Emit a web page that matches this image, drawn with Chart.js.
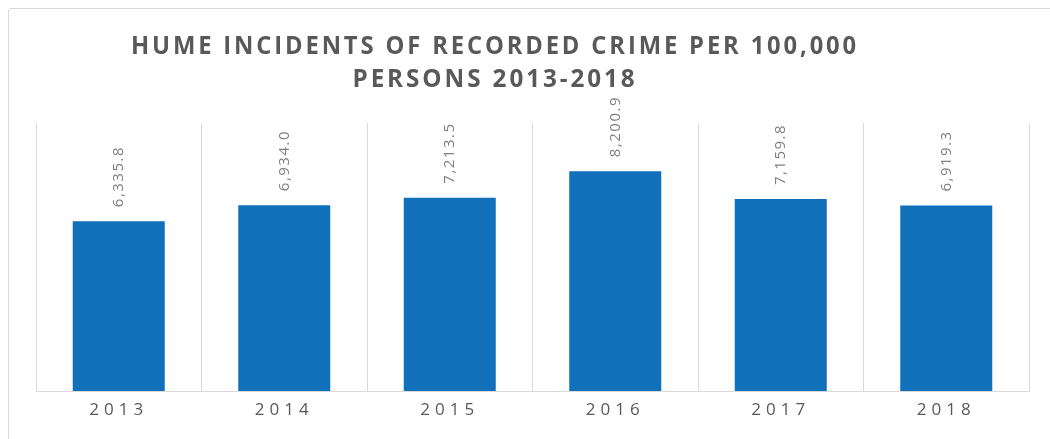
<!DOCTYPE html>
<html lang="en">
<head>
  <meta charset="UTF-8">
  <title>Hume incidents of recorded crime</title>
  <script src="https://cdn.jsdelivr.net/npm/chart.js"></script>
  <style>
    html, body { margin: 0; padding: 0; background: #fff; overflow: hidden; }
    .frame {
      position: absolute; left: 8px; top: 8px;
      width: 1200px; height: 600px;
      border: 1px solid #d9d9d9; border-radius: 3px;
    }
    .wrap { position: absolute; left: 0; top: 0; width: 1050px; height: 439px; }
  </style>
</head>
<body>
  <div class="frame"></div>
  <div class="wrap"><canvas id="crimeChart" width="1050" height="439"></canvas></div>

  <script>
    // data
    const years = ['2013', '2014', '2015', '2016', '2017', '2018'];
    const ratePer100k = [6335.8, 6934.0, 7213.5, 8200.9, 7159.8, 6919.3];
    const titleLines = ['HUME INCIDENTS OF RECORDED CRIME PER 100,000', 'PERSONS 2013-2018'];

    const fmt = v => v.toLocaleString('en-US', { minimumFractionDigits: 1, maximumFractionDigits: 1 });

    // title drawn by hand so it can sit off-centre and condensed like the original
    const titlePlugin = {
      id: 'titlePlugin',
      afterDraw(chart) {
        const ctx = chart.ctx;
        const widths = [728, 285];
        const baselines = [54, 87];
        ctx.save();
        ctx.fillStyle = '#595959';
        ctx.font = 'bold 25px "Open Sans", sans-serif';
        ctx.letterSpacing = '3px';
        ctx.textBaseline = 'alphabetic';
        titleLines.forEach((line, i) => {
          const w = ctx.measureText(line).width;
          const sx = widths[i] / w;
          ctx.save();
          ctx.translate(495, baselines[i]);
          ctx.scale(sx, 1);
          ctx.textAlign = 'center';
          ctx.fillText(line, 0, 0);
          ctx.restore();
        });
        ctx.restore();
      }
    };

    // rotated value labels above each bar
    const valueLabels = {
      id: 'valueLabels',
      afterDatasetsDraw(chart) {
        const ctx = chart.ctx;
        const meta = chart.getDatasetMeta(0);
        ctx.save();
        ctx.fillStyle = '#7f7f7f';
        ctx.font = '15px "Open Sans", sans-serif';
        ctx.letterSpacing = '1.5px';
        ctx.textAlign = 'left';
        ctx.textBaseline = 'middle';
        meta.data.forEach((bar, i) => {
          ctx.save();
          ctx.translate(bar.x, bar.y - 14);
          ctx.rotate(-Math.PI / 2);
          ctx.fillText(fmt(ratePer100k[i]), 0, 0);
          ctx.restore();
        });
        ctx.restore();
      }
    };

    // spaced-out category labels
    const tickSpacing = {
      id: 'tickSpacing',
      beforeDraw(chart) { chart.ctx.letterSpacing = '5px'; },
      beforeDatasetsDraw(chart) { chart.ctx.letterSpacing = '0px'; }
    };

    new Chart(document.getElementById('crimeChart'), {
      type: 'bar',
      data: {
        labels: years,
        datasets: [{
          data: ratePer100k,
          backgroundColor: '#1170ba',
          borderWidth: 0,
          barPercentage: 0.556,
          categoryPercentage: 1.0
        }]
      },
      options: {
        responsive: false,
        animation: false,
        devicePixelRatio: 1,
        layout: { padding: { left: 36, right: 21, top: 123, bottom: 0 } },
        plugins: {
          legend: { display: false },
          title: { display: false },
          tooltip: { enabled: false }
        },
        scales: {
          x: {
            offset: true,
            grid: { display: true, offset: true, color: '#d9d9d9', lineWidth: 1, drawTicks: false },
            border: { display: true, color: '#d9d9d9' },
            ticks: { color: '#595959', font: { family: '"Open Sans", sans-serif', size: 17 }, padding: 9 },
            afterFit: s => { s.height = 48; }
          },
          y: {
            display: false,
            min: 0,
            max: 10000
          }
        }
      },
      plugins: [titlePlugin, valueLabels, tickSpacing]
    });
  </script>
</body>
</html>
